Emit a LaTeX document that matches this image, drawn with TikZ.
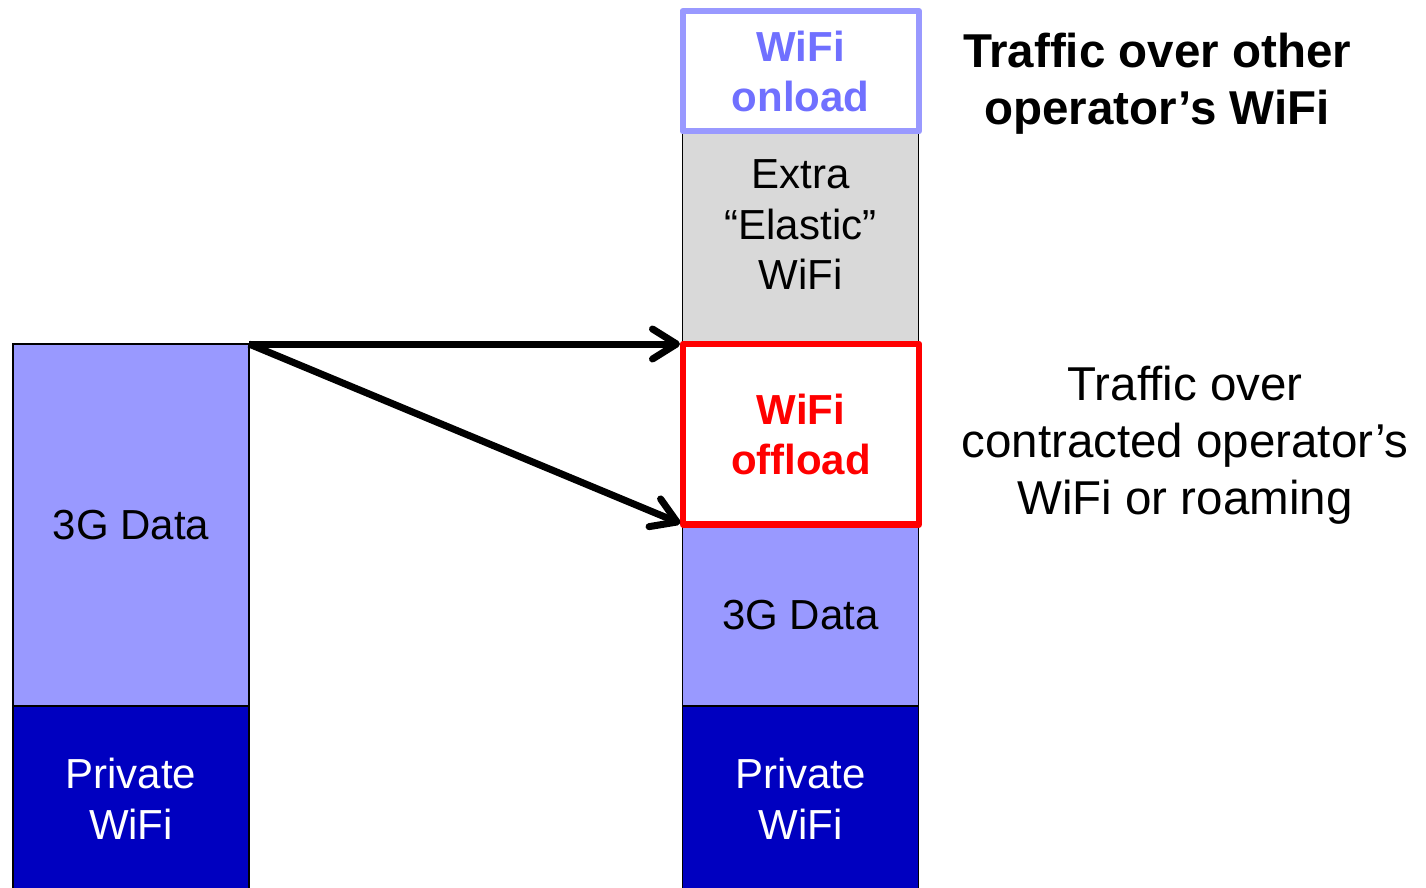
\documentclass[tikz,border=0pt]{standalone}
\usepackage{fontspec}
\setmainfont{Liberation Sans}
\usetikzlibrary{arrows.meta}
\usetikzlibrary{positioning}
\definecolor{lightblue}{HTML}{9999FF}
\definecolor{darkblue}{HTML}{0000C0}
\definecolor{onloadtext}{HTML}{7070FF}
\definecolor{elasticgray}{HTML}{D9D9D9}
\newcommand{\boxfont}{\fontsize{42}{50.5}\selectfont}
\newcommand{\notefont}{\fontsize{47.5}{57}\selectfont}

\begin{document}
\begin{tikzpicture}[x=1pt, y=-1pt,
	box/.style={draw=black, line width=1.5pt, outer sep=0pt, inner sep=0pt,
		minimum width=236pt, align=center, font=\boxfont},
	flow/.style={line width=7pt, -{Straight Barb[length=24pt,width=30pt,round]}, shorten >=3pt}]
				\useasboundingbox (0,0) rectangle (1426,888);
				
				% Draw the left column
				\node[box, fill=lightblue, minimum height=362pt] (left3g) at (131,525) {3G Data};
				\node[box, fill=darkblue, text=white, minimum height=186pt] (leftwifi) at (131,799) {Private\\WiFi};
				
				% Draw the right column
				\node[box, fill=elasticgray, minimum height=236pt] (elastic) at (800.5,225) {Extra\\“Elastic”\\WiFi};
				\node[box, draw=lightblue, line width=6pt, line join=round, fill=white, text=onloadtext,
					font=\boxfont\bfseries, minimum width=236.5pt, minimum height=120.5pt] (onload) at (800.75,71.25) {WiFi\\onload};
				\node[box, fill=lightblue, minimum height=181.5pt] (right3g) at (800.5,615.25) {3G Data};
				\node[box, fill=darkblue, text=white, minimum height=186pt] (rightwifi) at (800.5,799) {Private\\WiFi};
				\node[box, draw=red, line width=6.5pt, line join=round, fill=white, text=red,
					font=\boxfont\bfseries, minimum height=180.5pt] (offload) at (801,434.25) {WiFi\\offload};
				
				% Draw the notes
				\node[align=center, font=\notefont\bfseries, inner sep=0pt] (title) at (1157,84) {Traffic over other\\operator’s WiFi};
				\node[align=center, font=\notefont, inner sep=0pt] (note) at (1185,445) {Traffic over\\contracted operator’s\\WiFi or roaming};
				
				% Draw the arrows
				\draw[flow] (left3g.north east) -- (offload.north west);
				\draw[flow] (left3g.north east) -- (offload.south west);
			\end{tikzpicture}
\end{document}
